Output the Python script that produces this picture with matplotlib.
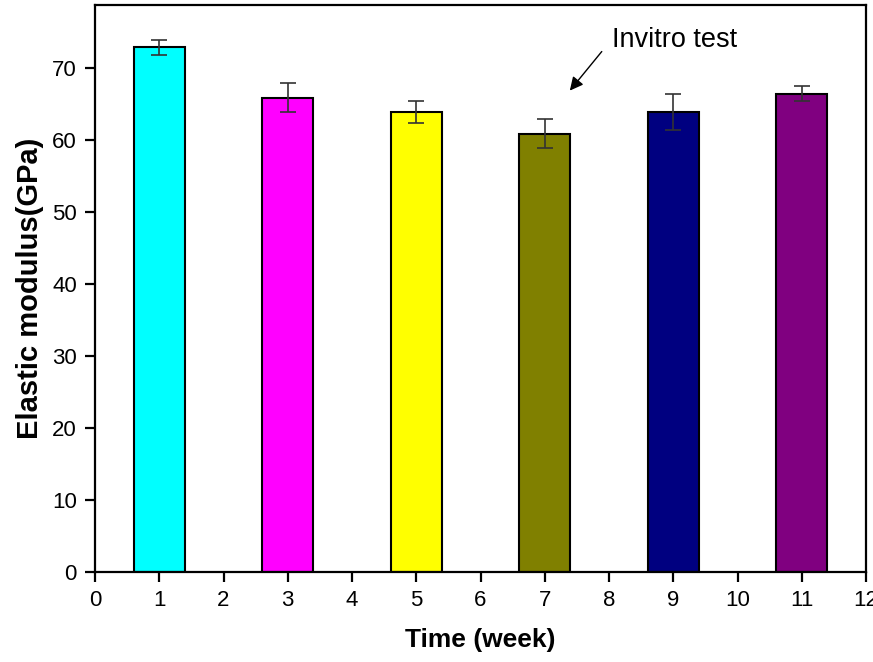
import matplotlib
matplotlib.use("Agg")
import matplotlib.pyplot as plt

weeks = [1, 3, 5, 7, 9, 11]
modulus = [72.9, 65.9, 63.9, 60.9, 63.9, 66.5]
errors = [1.0, 2.0, 1.5, 2.0, 2.5, 1.0]
colors = ["#00FFFF", "#FF00FF", "#FFFF00", "#808000", "#000080", "#800080"]
xticks = list(range(0, 13))
yticks = list(range(0, 80, 10))

fig = plt.figure(figsize=(8.73, 6.62), dpi=100)
ax = fig.add_axes([95/873, 1-572/662, (866-95)/873, (572-5)/662])

ax.bar(weeks, modulus, width=0.8, color=colors, edgecolor="black", linewidth=1.5,
       yerr=errors, error_kw=dict(ecolor="#333333", elinewidth=1.2, capsize=6, capthick=1.2), zorder=2)

ax.set_xlim(0, 12)
ax.set_ylim(0, 78.8)
ax.set_xticks(xticks)
ax.set_yticks(yticks)
for s in ax.spines.values():
    s.set_linewidth(1.6)
ax.tick_params(direction="out", length=7, width=1.6, labelsize=16, pad=6)
for lab in ax.get_xticklabels() + ax.get_yticklabels():
    lab.set_family("Liberation Sans")

ax.set_xlabel("Time (week)", fontsize=19, fontweight="bold", family="Liberation Sans", labelpad=12)
ax.set_ylabel("Elastic modulus(GPa)", fontsize=21, fontweight="bold", family="Liberation Sans", labelpad=6)

ax.annotate("Invitro test", xy=(7.39, 66.9), xytext=(8.04, 74.0),
            fontsize=19.5, family="Liberation Sans", va="center", ha="left",
            arrowprops=dict(arrowstyle="-|>", color="black", lw=1.0, mutation_scale=20,
                            shrinkA=8, shrinkB=0, relpos=(0, 0.5)))

fig.savefig("out.png", dpi=100)
